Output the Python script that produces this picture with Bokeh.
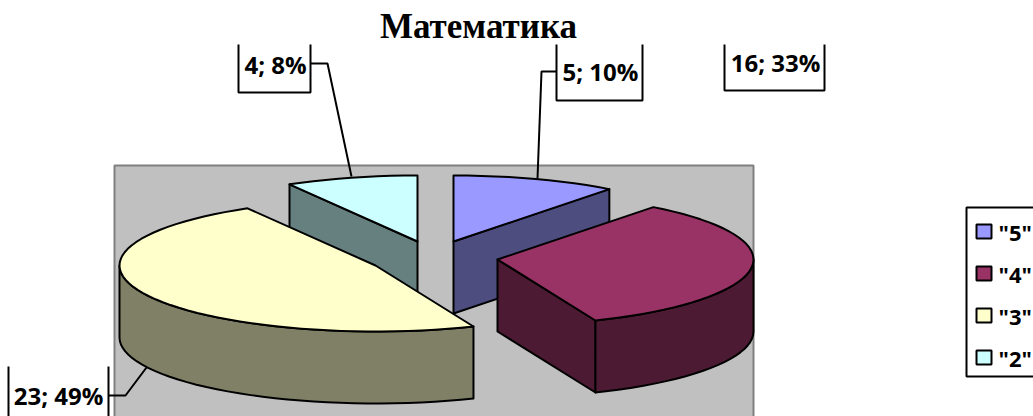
from math import radians, sin, cos
from bokeh.plotting import figure
from bokeh.embed import file_html
from bokeh.resources import INLINE
from bokeh.core.properties import value

title_text = "Математика"
categories = ['"5"', '"4"', '"3"', '"2"']
values = [5, 16, 23, 4]
percents = [10, 33, 49, 8]
top_colors = ["#9999ff", "#993366", "#ffffcc", "#ccffff"]
side_colors = ["#4d4d80", "#4d1a33", "#808066", "#668080"]

# pie layout (pixels of the page): exploded-slice apexes, ellipse radii, depth
apexes = [(453, 241), (497, 259), (375, 265), (417, 241)]
RX, RY, DEPTH = 256, 66, 72
W, H = 1033, 416

total = sum(values)
angles = [0]
for v in values:
    angles.append(angles[-1] + v / total * 360)


def rim(apex, theta, dy=0):
    t = radians(theta)
    return apex[0] + RX * sin(t), apex[1] - RY * cos(t) + dy


def arc(apex, a, b, dy=0):
    n = max(2, int(abs(b - a) / 3))
    return [rim(apex, a + (b - a) * i / n, dy) for i in range(n + 1)]


p = figure(width=W, height=H, x_range=(0, W), y_range=(H, 0), output_backend="svg",
           toolbar_location=None, min_border=0, outline_line_color=None,
           x_axis_location=None, y_axis_location=None, background_fill_color="white")
p.grid.visible = False


def poly(pts, color, lw=2):
    xs, ys = zip(*pts)
    p.patch(list(xs), list(ys), fill_color=color, line_color="black", line_width=lw, line_join="round")


# plot area
p.quad(left=114, right=753, top=165, bottom=H + 5, fill_color="#c0c0c0", line_color="#808080", line_width=2)


def wall(apex, theta, color):
    a = apex
    r = rim(apex, theta)
    poly([a, r, (r[0], r[1] + DEPTH), (a[0], a[1] + DEPTH)], color)


def front(apex, a, b, color):
    top = arc(apex, a, b)
    poly(top + [(x, y + DEPTH) for x, y in reversed(top)], color)


def face(apex, a, b, color):
    poly([apex] + arc(apex, a, b), color)


# back to front: "2", "5", "4", "3"
a2 = apexes[3]
wall(a2, angles[3], side_colors[3])
face(a2, angles[3], angles[4], top_colors[3])

a5 = apexes[0]
wall(a5, angles[1], side_colors[0])
face(a5, angles[0], angles[1], top_colors[0])

a4 = apexes[1]
wall(a4, angles[2], side_colors[1])
front(a4, 90, angles[2], side_colors[1])
face(a4, angles[1], angles[2], top_colors[1])

a3 = apexes[2]
front(a3, angles[2], 270, side_colors[2])
face(a3, angles[2], angles[3], top_colors[2])

# data labels: boxes open where the picture cuts them, with leaders
labels = [
    (556, 642, 44, 100, 600, 71, [(556, 71), (541, 71), (537, 178)]),
    (724, 824, 44, 90, 775, 62, None),
    (8, 108, 366, H + 5, 58, 395, [(108, 395), (125, 395), (146, 367)]),
    (238, 310, 44, 92, 275, 64, [(310, 63), (327, 63), (351, 176)]),
]
for (l, r, t, b, tx, ty, lead), v, pct in zip(labels, values, percents):
    p.quad(left=l, right=r, top=t, bottom=b, fill_color="white", line_color=None)
    p.line([l, l, r, r], [t, b, b, t], line_color="black", line_width=2)
    if lead:
        xs, ys = zip(*lead)
        p.line(list(xs), list(ys), line_color="black", line_width=2)
    p.text([tx], [ty], text=[f"{v}; {pct}%"], text_font=value("Open Sans"), text_font_style="bold",
           text_font_size="24px", text_align="center", text_baseline="middle", text_color="black")

p.text([478], [26], text=[title_text], text_font=value("Liberation Serif"), text_font_style="bold",
       text_font_size="35px", text_align="center", text_baseline="middle", text_color="black")

# legend
p.line([W + 5, 966, 966, W + 5], [207, 207, 376, 376], line_color="black", line_width=2)
legend_rows = [231, 273, 315, 357]
for c, col, y in zip(categories, top_colors, legend_rows):
    p.quad(left=976, right=991, top=y - 7, bottom=y + 7, fill_color=col, line_color="black", line_width=2)
    p.text([998], [y], text=[c], text_font=value("Open Sans"), text_font_style="bold",
           text_font_size="22px", text_align="left", text_baseline="middle", text_color="black")

open("out.html", "w").write(file_html(p, INLINE))
